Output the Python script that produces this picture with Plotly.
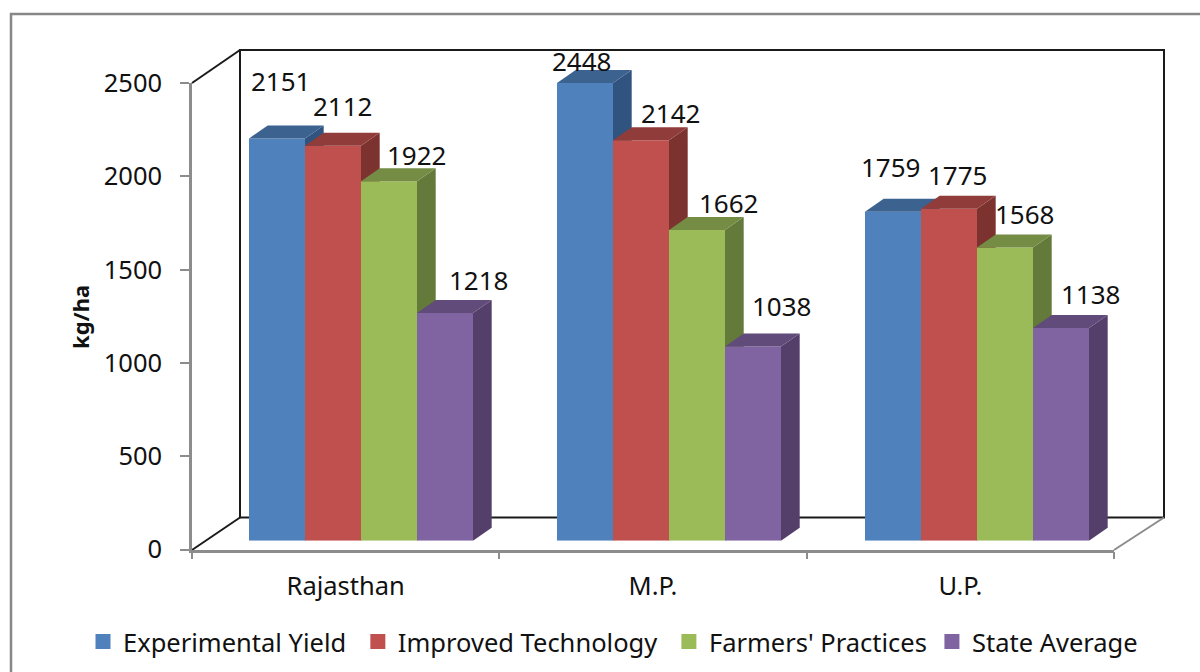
import plotly.graph_objects as go

# Yield data, kg/ha
states = ["Rajasthan", "M.P.", "U.P."]
series_names = ["Experimental Yield", "Improved Technology", "Farmers' Practices", "State Average"]
experimental_yield = [2151, 2448, 1759]
improved_technology = [2112, 2142, 1775]
farmers_practices = [1922, 1662, 1568]
state_average = [1218, 1038, 1138]
y_ticks = [0, 500, 1000, 1500, 2000, 2500]

# Face colours per series: front, top, side
front_colors = ["#4F81BD", "#C0504D", "#9BBB59", "#8064A2"]
top_colors = ["#3C6290", "#903C3A", "#748C43", "#604B7A"]
side_colors = ["#315380", "#7C3330", "#647A3A", "#533F6A"]

# Value label nudges in pixels, relative to each bar's top centre
label_dx = [[4, -3, -2], [10, 30, 9], [28, 32, 20], [34, 29, 30]]
label_dy = [[57, 22, 45], [40, 27, 34], [26, 27, 33], [33, 41, 34]]

W, H = 1200, 672
FONT = "Noto Sans"
TEXT = "#111111"
GRAY = "#8C8C8C"

# Plot geometry in pixels
GROUP_PX = 308.0
BAR_PX = 56.0
DEPTH_X_PX = 18.7
DEPTH_Y_PX = 13.0
BASE_Y_PX = 540.7
PX_PER_UNIT = 0.187
BAR_AXIS_TOP = 2600
bar_width = BAR_PX / GROUP_PX
depth_x = DEPTH_X_PX / GROUP_PX
depth_y = DEPTH_Y_PX / PX_PER_UNIT

# Extra space after a legend entry, to even out the gaps in the row
legend_padding = ["\u00a0", "\u00a0", "", ""]


def px_x(p):
    return p / W


def px_y(p):
    return 1 - p / H


all_series = [experimental_yield, improved_technology, farmers_practices, state_average]
fig = go.Figure()

# Front value axis and category axis carry the visible ticks
fig.add_trace(go.Scatter(x=states, y=[None] * 3, xaxis="x", yaxis="y", showlegend=False, hoverinfo="skip"))

annotations = [dict(
    x=px_x(80), y=px_y(317), xref="paper", yref="paper", xanchor="center", yanchor="middle",
    text="<b>kg/ha</b>", textangle=-90, showarrow=False,
    font=dict(family=FONT, size=22, color=TEXT))]
layout_axes = {}
for i, (name, values) in enumerate(zip(series_names, all_series)):
    n = i + 2
    xa, ya = f"x{n}", f"y{n}"
    offset = (i - 2) * bar_width
    for g, v in enumerate(values):
        left = g + offset
        right = left + bar_width
        # Right-hand face of the block
        fig.add_trace(go.Scatter(
            x=[right, right + depth_x, right + depth_x, right, right],
            y=[0, depth_y, v + depth_y, v, 0],
            xaxis=xa, yaxis=ya, mode="lines", fill="toself", fillcolor=side_colors[i],
            line=dict(width=0), showlegend=False, hoverinfo="skip"))
        # Upper face of the block
        fig.add_trace(go.Scatter(
            x=[left, right, right + depth_x, left + depth_x, left],
            y=[v, v, v + depth_y, v + depth_y, v],
            xaxis=xa, yaxis=ya, mode="lines", fill="toself", fillcolor=top_colors[i],
            line=dict(width=0), showlegend=False, hoverinfo="skip"))
        annotations.append(dict(
            x=left + bar_width / 2, y=v, xref=xa, yref=ya, text=str(v), showarrow=False,
            xshift=label_dx[i][g], yshift=label_dy[i][g],
            font=dict(family=FONT, size=26, color=TEXT)))
    fig.add_trace(go.Bar(
        x=[0, 1, 2], y=values, name=name, xaxis=xa, yaxis=ya, showlegend=False,
        width=bar_width, offset=offset, marker=dict(color=front_colors[i], line=dict(width=0))))
    # Square legend key for the series
    fig.add_trace(go.Scatter(
        x=[None], y=[None], name=name + legend_padding[i], xaxis=xa, yaxis=ya, mode="markers",
        marker=dict(symbol="square", size=15, color=front_colors[i], line=dict(width=0))))
    # Each series gets its own stacked subplot so later blocks hide earlier side faces
    layout_axes[f"xaxis{n}"] = dict(
        domain=[px_x(207), px_x(207 + 3 * GROUP_PX)], range=[-0.5, 2.5], visible=False, anchor=ya, fixedrange=True)
    layout_axes[f"yaxis{n}"] = dict(
        domain=[px_y(BASE_Y_PX), px_y(BASE_Y_PX - BAR_AXIS_TOP * PX_PER_UNIT)], range=[0, BAR_AXIS_TOP],
        visible=False, anchor=xa, fixedrange=True)

# Chart frame and the back wall of the box
shapes = [
    dict(type="rect", xref="paper", yref="paper", x0=px_x(11), y0=-0.02, x1=1.02, y1=px_y(14),
         line=dict(color="#878787", width=2.5), layer="below"),
    dict(type="rect", xref="paper", yref="paper", x0=px_x(240), x1=px_x(1164), y0=px_y(517.5), y1=px_y(50),
         line=dict(color="#1A1A1A", width=2), layer="below"),
    dict(type="line", xref="paper", yref="paper", x0=px_x(192), y0=px_y(83), x1=px_x(240), y1=px_y(50),
         line=dict(color="#1A1A1A", width=2), layer="below"),
    dict(type="line", xref="paper", yref="paper", x0=px_x(192), y0=px_y(550), x1=px_x(240), y1=px_y(517.5),
         line=dict(color="#1A1A1A", width=2), layer="below"),
    dict(type="line", xref="paper", yref="paper", x0=px_x(1114), y0=px_y(550), x1=px_x(1164), y1=px_y(517.5),
         line=dict(color=GRAY, width=2), layer="below"),
]

fig.update_layout(
    width=W, height=H,
    margin=dict(l=0, r=0, t=0, b=0, autoexpand=False),
    paper_bgcolor="white", plot_bgcolor="rgba(0,0,0,0)",
    font=dict(family=FONT, color=TEXT),
    barmode="overlay",
    xaxis=dict(
        domain=[px_x(192), px_x(1114)], type="category", categoryorder="array", categoryarray=states,
        range=[-0.5, 2.5], tickson="boundaries", ticks="outside", ticklen=7, tickwidth=2, tickcolor=GRAY,
        showline=True, linecolor=GRAY, linewidth=2.5, showgrid=False, zeroline=False,
        tickfont=dict(family=FONT, size=25.5, color=TEXT), ticklabelstandoff=12, anchor="y", fixedrange=True),
    yaxis=dict(
        domain=[px_y(549.5), px_y(83)], range=[0, 2500], tickvals=y_ticks, ticks="outside", ticklen=9, tickwidth=2,
        tickcolor=GRAY, showline=True, linecolor=GRAY, linewidth=2.5, showgrid=False, zeroline=False,
        tickfont=dict(family=FONT, size=25.5, color=TEXT), ticklabelstandoff=13, anchor="x", fixedrange=True),
    legend=dict(
        orientation="h", x=px_x(83), xanchor="left", y=px_y(642), yanchor="middle",
        font=dict(family=FONT, size=25.5, color=TEXT), bgcolor="rgba(0,0,0,0)", itemclick=False, itemdoubleclick=False),
    shapes=shapes,
    annotations=annotations,
    **layout_axes,
)

fig.write_html("out.html", config=dict(displayModeBar=False))
